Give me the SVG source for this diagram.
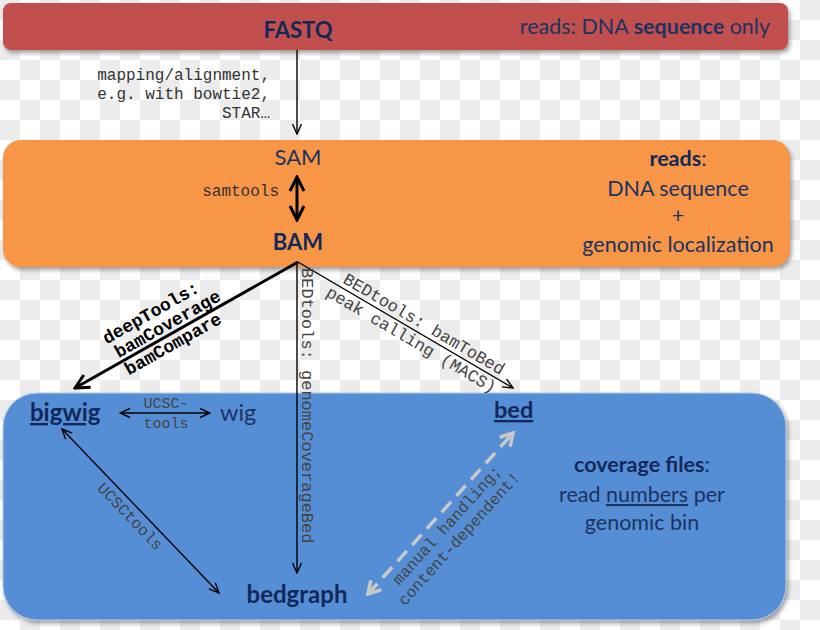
<svg xmlns="http://www.w3.org/2000/svg" width="820" height="630" viewBox="0 0 820 630">
<defs>
<pattern id="chk" width="40" height="40" patternUnits="userSpaceOnUse">
<rect width="40" height="40" fill="#ffffff"/>
<rect width="20" height="20" fill="#ececec"/>
<rect x="20" y="20" width="20" height="20" fill="#ececec"/>
</pattern>
<filter id="sh" x="-5%" y="-20%" width="110%" height="140%">
<feDropShadow dx="2" dy="3" stdDeviation="2" flood-color="#555" flood-opacity="0.55"/>
</filter>
<marker id="a" viewBox="0 0 12 12" refX="11" refY="6" markerWidth="12" markerHeight="12" markerUnits="userSpaceOnUse" orient="auto-start-reverse">
<path d="M1,1.5 L11,6 L1,10.5" fill="none" stroke="#000" stroke-width="1.4"/>
</marker>
<marker id="t" viewBox="0 0 18 18" refX="16" refY="9" markerWidth="18" markerHeight="18" markerUnits="userSpaceOnUse" orient="auto-start-reverse">
<path d="M2,2 L16,9 L2,16" fill="none" stroke="#000" stroke-width="3"/>
</marker>
<marker id="g" viewBox="0 0 18 18" refX="15" refY="9" markerWidth="18" markerHeight="18" markerUnits="userSpaceOnUse" orient="auto-start-reverse">
<path d="M3,2 L15,9 L3,16" fill="none" stroke="#c8c8c8" stroke-width="3.5"/>
</marker>
</defs>
<style>
.sans{font-family:Lato,"Open Sans","Liberation Sans",sans-serif;fill:#1c3362}
.b{font-weight:bold;fill:#12285a}
.mono{font-family:"Liberation Mono","Courier New",monospace;fill:#333}
.lg{fill:#444}
.thin{stroke:#000;stroke-width:1.4;fill:none}
</style>
<rect width="820" height="630" fill="url(#chk)"/>

<g id="fastq">
<rect x="3" y="3" width="785" height="47" rx="8" fill="#c0504d" filter="url(#sh)"/>
<text class="sans b" x="298" y="38" font-size="22" text-anchor="middle">FASTQ</text>
<text class="sans" x="770" y="34" font-size="21.5" text-anchor="end">reads: DNA <tspan font-weight="bold">sequence</tspan> only</text>
</g>

<g id="sambam">
<rect x="3" y="140" width="787" height="127" rx="18" fill="#f79646" filter="url(#sh)"/>
<text class="sans" x="298" y="165" font-size="22" text-anchor="middle">SAM</text>
<text class="sans b" x="298" y="250" font-size="22" text-anchor="middle">BAM</text>
<text class="sans" x="678" y="166" font-size="21.5" text-anchor="middle"><tspan font-weight="bold" fill="#12285a">reads</tspan>:</text>
<text class="sans" x="678" y="196" font-size="21.5" text-anchor="middle">DNA sequence</text>
<text class="sans" x="678" y="223" font-size="21.5" text-anchor="middle">+</text>
<text class="sans" x="678" y="252" font-size="21.5" text-anchor="middle">genomic localization</text>
</g>

<g id="coverage">
<rect x="3" y="393" width="783" height="227" rx="34" fill="#558ed5" stroke="#b9cce4" stroke-width="1" filter="url(#sh)"/>
<text class="sans b" x="30" y="421" font-size="24" text-decoration="underline">bigwig</text>
<text class="sans" x="220" y="421" font-size="23.5">wig</text>
<text class="sans b" x="494" y="418" font-size="23.5" text-decoration="underline">bed</text>
<text class="sans b" x="297" y="603" font-size="24" text-anchor="middle">bedgraph</text>
<text class="sans" x="642" y="472" font-size="21.5" text-anchor="middle"><tspan font-weight="bold" fill="#12285a">coverage files</tspan>:</text>
<text class="sans" x="642" y="502" font-size="21.5" text-anchor="middle">read <tspan text-decoration="underline">numbers</tspan> per</text>
<text class="sans" x="642" y="530" font-size="21.5" text-anchor="middle">genomic bin</text>
</g>

<g id="connectors">
<line class="thin" x1="297" y1="50" x2="297" y2="134" marker-end="url(#a)"/>
<text class="mono" font-size="16" text-anchor="end" x="270" y="80">mapping/alignment,</text>
<text class="mono" font-size="16" text-anchor="end" x="270" y="99">e.g. with bowtie2,</text>
<text class="mono" font-size="16" text-anchor="end" x="270" y="118">STAR…</text>

<line x1="297" y1="177" x2="297" y2="220" stroke="#000" stroke-width="3" marker-start="url(#t)" marker-end="url(#t)"/>
<text class="mono" font-size="16" text-anchor="end" x="279" y="196">samtools</text>

<line x1="298" y1="262" x2="75" y2="388" stroke="#000" stroke-width="3" marker-end="url(#t)"/>
<g transform="translate(168,335) rotate(-29.5)" class="mono" font-size="18" font-weight="bold" text-anchor="middle">
<text x="-4" y="-22" fill="#000">deepTools:</text>
<text x="5" y="-4" fill="#000">bamCoverage</text>
<text x="0" y="16" fill="#000">bamCompare</text>
</g>

<line class="thin" x1="298" y1="262" x2="513" y2="388" marker-end="url(#a)"/>
<g transform="translate(417,332) rotate(30.4)" class="mono lg" font-size="17" text-anchor="middle">
<text x="2" y="-5">BEDtools: bamToBed</text>
<text x="-1" y="15">peak calling (MACS)</text>
</g>

<line class="thin" x1="297" y1="262" x2="297" y2="573" marker-end="url(#a)"/>
<text class="mono lg" font-size="17" transform="translate(302,268) rotate(90)">BEDtools: genomeCoverageBed</text>

<line class="thin" x1="120" y1="413" x2="210" y2="413" marker-start="url(#a)" marker-end="url(#a)"/>
<text class="mono lg" font-size="15" text-anchor="middle" x="166" y="408">UCSC-</text>
<text class="mono lg" font-size="15" text-anchor="middle" x="166" y="428">tools</text>

<line class="thin" x1="62" y1="429" x2="219" y2="593" marker-start="url(#a)" marker-end="url(#a)"/>
<text class="mono lg" font-size="16" text-anchor="middle" transform="translate(138,509) rotate(46.25)" x="0" y="16">UCSCtools</text>

<line x1="368" y1="594" x2="513" y2="433" stroke="#c8c8c8" stroke-width="3.5" stroke-dasharray="14 8" marker-start="url(#g)" marker-end="url(#g)"/>
<g transform="translate(428,527) rotate(-48)" class="mono lg" font-size="16" text-anchor="middle">
<text x="14" y="18">manual handling;</text>
<text x="12" y="36">content-dependent!</text>
</g>
</g>
</svg>
